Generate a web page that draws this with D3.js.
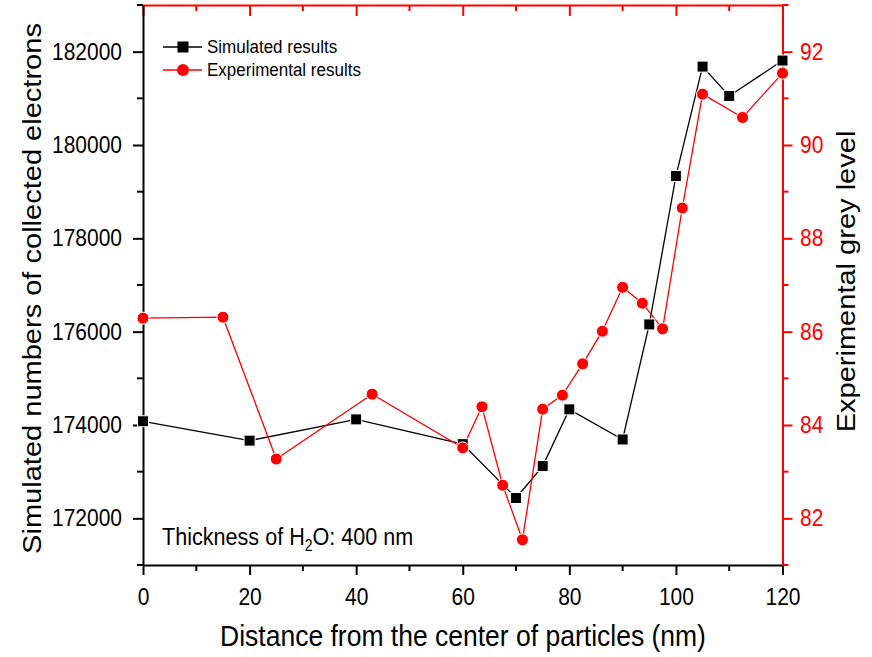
<!DOCTYPE html>
<html><head><meta charset="utf-8">
<script src="https://cdn.jsdelivr.net/npm/d3@7"></script>
<style>body{margin:0;background:#fff}svg{display:block;font-family:Arial,"Liberation Sans",sans-serif}</style>
</head><body><svg id="c" width="872" height="657"></svg>
<script>
const simX = [0, 20, 40, 60, 70, 75, 80, 90, 95, 100, 105, 110, 120];
const simY = [174080, 173665, 174120, 173590, 172435, 173120, 174335, 173690, 176155, 179335, 181680, 181050, 181810];
const expX = [0, 15, 25, 43, 60, 63.6, 67.5, 71.2, 75, 78.7, 82.5, 86.2, 90, 93.7, 97.5, 101.2, 105, 112.5, 120];
const expY = [86.29, 86.31, 83.27, 84.66, 83.51, 84.39, 82.71, 81.54, 84.34, 84.64, 85.31, 86.01, 86.95, 86.61, 86.06, 88.65, 91.09, 90.59, 91.54];
const xTicks = [0, 20, 40, 60, 80, 100, 120];
const leftTicks = [172000, 174000, 176000, 178000, 180000, 182000];
const rightTicks = [82, 84, 86, 88, 90, 92];
const seriesNames = ["Simulated results", "Experimental results"];

const svg = d3.select("#c");
const L = 143, R = 782.5, T = 5, B = 565;
const S = 1.13; // vertical stretch of text
const x = d3.scaleLinear().domain([0, 120]).range([L, R]);
const yL = d3.scaleLinear().domain([171000, 183000]).range([B, T]);
const yR = d3.scaleLinear().domain([81, 93]).range([B, T]);
const RED = "#ff0000";
const FF = "Arial, 'Liberation Sans', sans-serif";

function styleAxis(g, color, fs) {
  g.select(".domain").attr("stroke", color).attr("stroke-width", 2);
  g.selectAll(".tick line").attr("stroke", color).attr("stroke-width", 2);
  g.selectAll(".tick text").attr("fill", color).style("font-size", fs + "px").attr("font-family", FF);
}
const minorX = d3.range(10, 120, 20);
const minorL = d3.range(171000, 183001, 2000);
const minorR = d3.range(81, 93.01, 2);

// top axis (red, inward ticks)
const gt = svg.append("g").attr("transform", `translate(0,${T})`);
gt.call(d3.axisTop(x).tickValues(xTicks).tickSize(-11).tickSizeOuter(0).tickFormat(""));
gt.selectAll(".minor").data(minorX).enter().append("line").attr("class","minor")
  .attr("x1", d => x(d)).attr("x2", d => x(d)).attr("y1", 0).attr("y2", 6).attr("stroke", RED).attr("stroke-width", 2);
styleAxis(gt, RED, 18);

// bottom axis
const gb = svg.append("g").attr("transform", `translate(0,${B})`);
gb.call(d3.axisBottom(x).tickValues(xTicks).tickSize(10).tickSizeOuter(0));
gb.selectAll(".minor").data(minorX).enter().append("line").attr("class","minor")
  .attr("x1", d => x(d)).attr("x2", d => x(d)).attr("y1", 0).attr("y2", 6).attr("stroke", "#000").attr("stroke-width", 2);
styleAxis(gb, "#000", 21);
gb.selectAll(".tick text").attr("dy", 0).attr("y", 40 / S).attr("transform", `scale(1,${S})`);

// right axis (red)
const gr = svg.append("g").attr("transform", `translate(${R},0)`);
gr.call(d3.axisRight(yR).tickValues(rightTicks).tickSize(10).tickSizeOuter(0).tickPadding(7.5).tickFormat(d3.format("d")));
gr.selectAll(".minor").data(minorR).enter().append("line").attr("class","minor")
  .attr("y1", d => yR(d)).attr("y2", d => yR(d)).attr("x1", 0).attr("x2", 6).attr("stroke", RED).attr("stroke-width", 2);
styleAxis(gr, RED, 21);
gr.selectAll(".tick text").attr("transform", `scale(1,${S})`);

// left axis
const gl = svg.append("g").attr("transform", `translate(${L},0)`);
gl.call(d3.axisLeft(yL).tickValues(leftTicks).tickSize(10).tickSizeOuter(0).tickPadding(11).tickFormat(d3.format("d")));
gl.selectAll(".minor").data(minorL).enter().append("line").attr("class","minor")
  .attr("y1", d => yL(d)).attr("y2", d => yL(d)).attr("x1", 0).attr("x2", -6).attr("stroke", "#000").attr("stroke-width", 2);
styleAxis(gl, "#000", 21);
gl.selectAll(".tick text").attr("transform", `scale(1,${S})`);

// data
const sim = simX.map((d, i) => [d, simY[i]]);
const exp = expX.map((d, i) => [d, expY[i]]);
svg.append("path").datum(sim).attr("fill", "none").attr("stroke", "#000").attr("stroke-width", 1.3)
  .attr("d", d3.line().x(d => x(d[0])).y(d => yL(d[1])));
svg.append("path").datum(exp).attr("fill", "none").attr("stroke", RED).attr("stroke-width", 1.3)
  .attr("d", d3.line().x(d => x(d[0])).y(d => yR(d[1])));
svg.append("g").selectAll("rect").data(sim).enter().append("rect")
  .attr("x", d => x(d[0]) - 5.5).attr("y", d => yL(d[1]) - 5.5).attr("width", 11).attr("height", 11)
  .attr("fill", "#000").attr("stroke", "#fff").attr("stroke-width", 1);
svg.append("g").selectAll("circle").data(exp).enter().append("circle")
  .attr("cx", d => x(d[0])).attr("cy", d => yR(d[1])).attr("r", 6)
  .attr("fill", RED).attr("stroke", "#fff").attr("stroke-width", 1);

function stext(xp, yp, fs, txt, anchor) {
  return svg.append("text").attr("transform", `translate(${xp},${yp}) scale(1,${S})`)
    .attr("text-anchor", anchor || "start").style("font-size", fs + "px").attr("fill", "#000").attr("font-family", FF).text(txt);
}

// legend
const lg = svg.append("g");
[["#000", "rect"], [RED, "circle"]].forEach((s, i) => {
  const yy = 47 + i * 23;
  lg.append("line").attr("x1", 163).attr("x2", 202).attr("y1", yy).attr("y2", yy).attr("stroke", s[0]).attr("stroke-width", 1.3);
  if (s[1] === "rect") lg.append("rect").attr("x", 177.5).attr("y", yy - 5.5).attr("width", 11).attr("height", 11).attr("fill", "#000");
  else lg.append("circle").attr("cx", 183).attr("cy", yy).attr("r", 6).attr("fill", RED);
  stext(207, yy + 6, 17, seriesNames[i]);
});

// annotation
const an = stext(162, 545, 21.6, null);
an.append("tspan").text("Thickness of H");
an.append("tspan").attr("dy", 5).style("font-size", "14px").text("2");
an.append("tspan").attr("dy", -5).text("O: 400 nm");

// axis titles
stext(463, 646, 26.5, "Distance from the center of particles (nm)", "middle");
svg.append("text").attr("transform", `translate(41,288.5) rotate(-90) scale(${S},1)`).attr("text-anchor", "middle")
  .style("font-size", "25.7px").attr("font-family", FF).text("Simulated numbers of collected electrons");
svg.append("text").attr("transform", `translate(855,281.5) rotate(-90) scale(${S},1)`).attr("text-anchor", "middle")
  .style("font-size", "25.7px").attr("font-family", FF).text("Experimental grey level");
</script></body></html>
